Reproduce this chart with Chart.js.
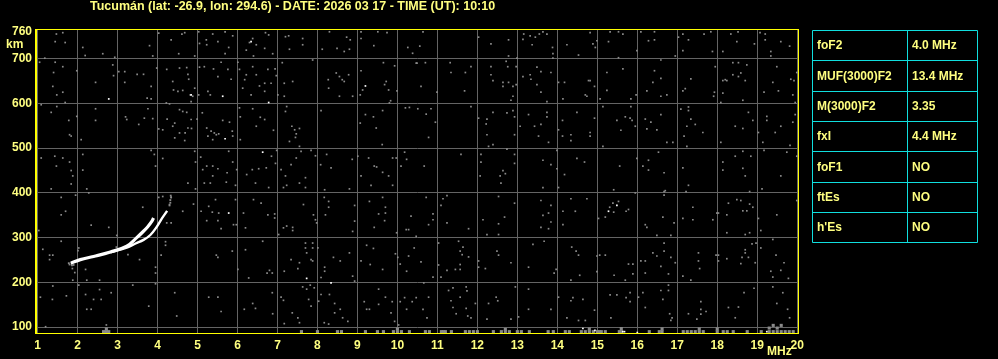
<!DOCTYPE html>
<html>
<head>
<meta charset="utf-8">
<script src="https://cdn.jsdelivr.net/npm/chart.js@4.4.1/dist/chart.umd.min.js"></script>
<style>
  html, body { margin: 0; padding: 0; background: #000; }
  #wrap { width: 998px; height: 359px; }
</style>
</head>
<body>
<div id="wrap"><canvas id="ionoChart" width="998" height="359"></canvas></div>
<script>
// station / sounding header
const station = 'Tucumán';
const lat = -26.9, lon = 294.6;
const soundDate = '2026 03 17', soundTime = '10:10';

// axes
const xTicks = [1, 2, 3, 4, 5, 6, 7, 8, 9, 10, 11, 12, 13, 14, 15, 16, 17, 18, 19, 20];
const yTicks = [100, 200, 300, 400, 500, 600, 700, 760];

// scaled parameters (right hand table)
const paramNames = ['foF2', 'MUF(3000)F2', 'M(3000)F2', 'fxI', 'foF1', 'ftEs', "h'Es"];
const paramValues = ['4.0 MHz', '13.4 MHz', '3.35', '4.4 MHz', 'NO', 'NO', 'NO'];

// F2 echo traces [MHz, km]
const oTrace = [[1.83,243],[2.07,251],[2.4,258],[2.82,268],[3.23,281],[3.48,300],[3.61,311],[3.75,324],[3.86,337],[3.9,344]];
const xTrace = [[2.82,267],[3.23,278],[3.45,287],[3.65,295],[3.82,306],[3.98,324],[4.11,343],[4.24,360]];
const faintEcho = [[1.78,243],[1.8,240],[1.86,238],[1.9,239],[4.3,372],[4.32,378],[4.32,384],[4.34,390],[4.33,394]];

// scattered noise echoes [MHz, km]
const noiseDots = [
[1.47,755],[1.63,758],[1.44,738],[1.69,736],[1.18,701],[2.19,707],[2.13,725],[2.63,711],[2.93,703],[3.8,729],[3.88,706],[4.03,757],[4.34,742],[4.61,755],[4.68,758],[4.53,711],[4.93,706],[5.05,734],[5.03,760],[5.22,742],[5.23,731],[5.38,755],[5.51,738],[5.69,760],[5.78,725],[5.69,711],[5.88,751],[6.22,719],[6.3,736],[6.38,745],[6.47,731],[6.4,706],[6.7,758],[6.78,753],[6.88,711],[6.68,723],[7.2,749],[7.28,751],[7.3,721],[7.63,745],[7.63,731],[7.88,697],[8.12,721],[8.3,760],[8.49,723],[8.67,716],[8.73,748],[8.82,742],[8.8,721],[9.09,745],[9.09,760],[9.41,729],[9.51,760],[9.74,758],[10.26,725],[10.38,712],
[1.05,692],[1.4,669],[1.63,682],[1.44,692],[1.38,638],[1.48,619],[1.63,625],[1.69,602],[1.98,673],[2.45,647],[2.88,686],[2.9,662],[3.03,671],[3.18,671],[3.18,647],[3.49,665],[3.65,665],[3.84,638],[3.74,612],[3.84,610],[3.98,679],[4.23,676],[4.38,649],[4.4,630],[4.51,627],[4.63,629],[4.55,679],[4.73,680],[4.76,665],[4.78,654],[4.82,619],[4.88,616],[4.84,604],[4.93,634],[5.05,681],[5.03,619],[5.17,682],[5.26,627],[5.32,619],[5.4,677],[5.51,660],[5.59,692],[5.76,676],[5.84,654],[6.01,692],[6.05,676],[6.18,653],[6.13,634],[6.22,664],[6.38,682],[6.34,619],[6.47,664],[6.55,639],[6.68,645],[6.68,627],[6.76,676],[6.84,645],[6.94,677],[6.97,662],[7.01,619],[7.17,645],[7.38,649],[7.17,616],[7.12,691],[8.27,653],[8.47,668],[8.55,660],[8.62,653],[8.67,649],[8.78,664],[8.28,634],[8.55,616],[8.88,616],[9.09,673],[9.13,630],[9.07,619],[9.65,691],[9.72,649],[9.68,642],[9.78,630],[9.93,684],[9.99,628],[9.83,606],[10.47,690],
[1.09,597],[1.34,580],[1.48,593],[1.78,562],[1.98,571],[2.09,519],[1.8,530],[1.84,527],[2.45,588],[2.45,562],[3.2,570],[3.23,564],[3.53,553],[3.67,567],[3.76,588],[3.88,566],[4.22,601],[4.3,599],[4.03,543],[4.13,541],[4.24,565],[4.38,549],[4.43,556],[4.55,586],[4.63,582],[4.73,580],[4.55,534],[4.69,534],[4.68,517],[4.43,523],[4.76,545],[4.85,544],[4.84,564],[4.99,565],[5.12,579],[5.23,545],[5.34,538],[5.42,534],[5.47,530],[5.53,532],[5.26,527],[5.38,519],[5.63,562],[5.8,558],[5.87,538],[5.88,527],[6.05,590],[6.07,570],[6.07,519],[6.38,588],[6.47,549],[6.57,569],[6.68,564],[6.9,540],[7.2,582],[7.23,593],[7.36,549],[7.43,541],[7.47,532],[7.45,524],[7.55,544],[7.3,515],[7.55,504],[8.09,584],[9.07,556],[9.2,575],[9.4,570],[9.47,545],[9.63,584],[9.8,601],[10.2,590],[10.3,591],[9.62,508],
[1.09,478],[1.43,482],[1.63,478],[1.8,469],[1.84,450],[1.88,438],[2.13,486],[1.47,460],[2.13,451],[3.92,486],[3.95,460],[3.84,495],[4.13,477],[4.93,493],[4.95,469],[5.08,480],[5.13,452],[5.23,460],[5.38,460],[5.38,438],[5.51,454],[5.74,445],[5.78,493],[5.88,469],[5.98,452],[6.23,441],[6.37,452],[6.53,454],[6.72,456],[6.85,482],[6.95,466],[6.98,495],[7.09,452],[7.2,438],[7.34,463],[7.47,478],[7.59,493],[7.7,434],[7.84,495],[7.95,483],[8.08,463],[8.23,486],[8.34,456],[8.87,475],[9.01,482],[9.09,438],[9.28,478],[9.42,460],[9.48,458],[9.63,446],[9.78,438],[9.88,478],[9.97,478],[10.09,460],[10.18,491],[10.23,475],
[10.64,760],[10.56,728],[10.49,690],[10.7,691],[10.59,638],[10.99,625],[11.32,691],[11.34,669],[11.7,669],[11.84,682],[11.68,628],[11.84,593],[12.03,748],[12.34,733],[12.78,742],[12.78,706],[12.99,701],[13.16,755],[13.14,743],[13.32,751],[13.37,731],[13.45,748],[13.55,755],[13.64,760],[13.74,755],[13.88,725],[13.89,711],[13.89,701],[14.24,731],[14.53,708],[14.82,758],[14.89,733],[14.99,740],[14.95,725],[15.28,738],[15.32,760],[15.53,760],[15.53,702],[15.64,755],[15.99,718],[16.09,760],[16.28,740],[16.43,760],[16.43,742],[16.95,706],[17.03,748],[17.14,755],[17.14,718],[17.28,742],[17.67,755],[17.84,760],[17.88,716],[18.14,716],[18.34,755],[18.49,738],[18.52,760],[18.93,733],[19.07,758],[19.2,755],[19.2,742],[19.34,716],[19.34,706],[19.59,738],[19.81,728],
[12.34,682],[12.34,664],[12.39,651],[12.64,647],[12.64,638],[12.78,647],[12.89,638],[12.72,694],[12.76,682],[12.97,682],[12.97,642],[12.89,616],[12.84,607],[13.14,660],[13.32,664],[13.34,654],[13.49,681],[13.59,671],[13.49,642],[13.59,625],[13.84,669],[13.74,604],[14.03,647],[14.18,647],[14.78,651],[14.82,651],[14.93,638],[14.7,619],[14.74,616],[14.14,610],[15.24,669],[15.64,677],[15.24,629],[15.07,610],[15.84,610],[15.97,619],[16.59,697],[16.43,673],[16.59,656],[16.39,647],[16.24,628],[16.74,619],[16.59,616],[17.34,655],[17.2,633],[17.14,628],[17.95,682],[17.93,625],[17.91,616],[18.14,651],[18.2,653],[18.24,651],[18.14,623],[18.09,602],[18.39,691],[18.53,691],[18.74,686],[18.59,668],[18.39,664],[18.53,660],[18.7,651],[18.64,607],[19.17,625],[19.49,682],[19.39,647],[19.53,628],[19.84,654],[19.92,651],[19.89,619],[19.95,602],[19.99,669],
[10.51,588],[10.84,588],[10.72,576],[10.95,558],[10.78,524],[12.03,567],[12.24,565],[12.22,554],[12.24,530],[12.39,580],[12.74,579],[12.89,584],[12.93,570],[12.93,530],[12.28,504],[12.39,508],[12.74,498],[13.07,549],[13.28,575],[13.43,549],[13.53,527],[13.59,553],[13.74,570],[13.74,580],[13.78,513],[14.03,541],[14.13,562],[14.13,527],[14.34,530],[14.34,517],[14.49,580],[14.82,535],[14.82,527],[14.93,567],[15.14,593],[15.14,504],[15.49,562],[15.59,540],[15.7,570],[15.82,567],[15.84,593],[15.87,562],[15.95,549],[16.2,565],[16.24,543],[16.34,558],[16.49,541],[16.59,575],[16.74,513],[16.89,513],[17.09,587],[17.28,592],[17.28,584],[17.34,565],[17.45,553],[17.24,549],[17.17,527],[17.24,504],[17.64,535],[18.09,513],[18.45,549],[18.64,544],[18.78,580],[18.89,562],[19.03,535],[19.14,513],[19.24,571],[19.24,562],[19.45,535],[19.59,549],[19.82,506],[19.89,558],[19.95,575],
[10.67,460],[11.59,486],[12.09,486],[12.09,469],[12.07,438],[12.57,438],[12.64,450],[12.7,443],[12.93,486],[12.93,466],[13.64,473],[13.84,463],[13.99,495],[13.99,454],[14.18,441],[14.49,477],[14.68,469],[15.56,460],[15.99,477],[16.14,460],[16.28,473],[16.28,451],[16.53,491],[16.67,445],[17.14,456],[18.14,469],[18.14,451],[18.45,482],[18.64,493],[18.64,455],[18.7,438],[18.84,482],[19.17,495],[19.59,438],[19.74,491],[19.99,482],
[1.34,409],[1.84,420],[2.23,409],[2.28,400],[4.76,422],[4.95,409],[5.17,422],[5.32,422],[5.72,424],[5.95,417],[6.45,422],[6.78,412],[7.15,412],[7.23,417],[7.55,422],[7.7,412],[8.18,407],[8.8,409],[9.34,417],[9.88,417],
[1.59,390],[1.95,395],[1.59,351],[1.7,359],[1.03,316],[2.34,328],[2.78,323],[2.98,305],[3.63,368],[4.03,390],[4.13,392],[4.34,390],[4.3,374],[4.23,333],[4.34,333],[4.63,359],[4.9,375],[5.09,359],[5.28,370],[5.37,357],[5.45,385],[5.53,355],[5.51,338],[5.59,320],[5.23,338],[5.9,329],[5.97,329],[5.95,385],[6.15,355],[6.2,322],[6.4,385],[6.59,377],[6.76,351],[6.93,353],[6.93,344],[7.15,322],[7.23,326],[7.38,323],[7.38,316],[7.03,307],[7.65,374],[7.9,351],[7.95,340],[7.98,333],[8.17,390],[8.28,381],[8.28,368],[8.2,351],[8.93,372],[8.93,337],[8.88,314],[9.3,381],[9.63,390],[9.7,368],[9.7,355],[9.53,353],[9.42,323],[9.68,338],[9.98,311],[10.22,318],[10.28,318],[10.34,348],[10.47,303],
[1.13,274],[1.59,292],[1.3,261],[1.38,261],[1.3,251],[2.03,277],[2.01,271],[1.87,231],[1.93,222],[1.88,205],[2.2,229],[2.23,205],[2.55,205],[2.97,279],[3.26,262],[3.55,251],[3.95,234],[3.95,221],[4.09,261],[4.2,291],[4.2,283],[5.47,261],[5.51,256],[5.87,270],[6.01,229],[6.28,210],[6.2,273],[6.63,292],[6.74,221],[6.8,227],[6.87,221],[7.17,225],[7.34,251],[7.55,244],[7.51,231],[7.7,288],[7.7,277],[7.88,288],[7.88,277],[7.73,266],[7.84,251],[7.88,248],[8.01,277],[8.18,234],[8.18,225],[8.09,211],[8.4,256],[8.57,248],[8.8,266],[8.88,214],[8.93,203],[9.09,248],[9.23,283],[9.32,240],[9.4,276],[9.63,229],[9.95,264],[10.01,256],[10.07,241],[10.23,225],[10.28,259],[10.42,277],
[1.07,167],[1.38,192],[1.37,162],[1.72,170],[2.03,194],[2.2,173],[2.23,140],[2.34,140],[2.4,162],[2.59,162],[2.55,184],[2.84,177],[3.38,194],[3.78,147],[3.95,197],[4.43,177],[4.48,125],[5.28,167],[5.51,167],[5.59,135],[6.17,140],[6.38,153],[6.45,142],[6.87,177],[6.88,130],[7.09,167],[7.15,160],[7.17,108],[7.37,132],[7.51,121],[7.55,110],[7.63,190],[7.73,185],[7.82,194],[7.92,188],[7.78,162],[7.84,147],[8.03,158],[8.09,173],[8.3,173],[8.17,110],[8.28,107],[8.43,153],[8.43,132],[8.57,140],[8.63,121],[8.76,113],[9.17,157],[9.23,140],[9.3,140],[9.53,185],[9.53,151],[9.7,167],[9.87,157],[9.84,132],[9.93,113],[10.03,105],[10.07,157],[10.18,166],[10.23,140],[10.37,157],[10.47,166],[1.2,101],[2.72,105],
[12.59,422],[13.64,412],[14.03,412],[15.41,407],[16.67,403],[16.67,395],[17.22,403],[17.28,417],[19.12,409],[18.81,403],
[10.72,390],[10.89,353],[10.78,329],[10.89,340],[11.09,372],[11.14,387],[11.24,394],[11.24,333],[11.78,320],[12.14,340],[12.24,307],[12.53,392],[12.53,331],[12.68,346],[12.53,307],[12.93,377],[13.59,383],[13.64,350],[13.78,355],[13.84,372],[13.84,335],[13.78,320],[13.59,323],[14.14,359],[14.45,359],[14.14,329],[14.34,387],[14.74,387],[15.03,343],[15.2,346],[15.31,368],[15.39,377],[15.41,357],[15.53,381],[15.78,363],[15.72,359],[15.95,400],[16.2,329],[16.24,323],[16.49,305],[16.64,346],[16.7,405],[16.84,305],[16.92,333],[17.14,343],[17.39,368],[17.39,340],[17.89,340],[17.99,355],[18.03,355],[18.24,351],[18.28,377],[18.24,311],[18.49,385],[18.59,383],[18.64,360],[18.74,360],[18.81,375],[18.89,368],[18.7,307],[18.81,311],[19.03,343],[19.09,316],[19.49,351],[19.99,383],
[11.03,288],[11.53,292],[11.57,270],[11.64,279],[11.62,262],[11.78,257],[11.57,240],[11.57,229],[11.45,229],[11.24,227],[11.09,212],[10.89,212],[10.59,246],[10.66,199],[11.03,239],[12.03,248],[12.03,234],[12.2,231],[12.49,270],[12.53,261],[12.84,244],[13.28,234],[13.39,285],[13.67,292],[13.92,221],[13.97,229],[14.36,279],[14.47,270],[14.53,261],[14.56,216],[14.34,205],[14.99,259],[15.06,261],[14.99,224],[15.2,261],[15.42,216],[15.7,205],[15.78,241],[15.89,241],[15.89,219],[16.09,248],[16.2,248],[16.2,221],[16.39,266],[16.49,259],[16.59,236],[16.67,288],[16.67,270],[16.78,219],[16.84,256],[16.95,244],[17.14,214],[17.34,205],[17.53,266],[17.53,248],[17.56,231],[17.97,261],[18.03,261],[18.03,248],[18.24,253],[18.59,242],[18.62,256],[18.7,273],[18.7,266],[18.78,256],[18.87,286],[18.97,288],[19.09,277],[18.95,244],[19.39,296],[19.47,261],[19.34,225],[19.39,212],[19.59,227],[19.67,244],[19.78,209],
[10.78,167],[10.64,140],[10.74,121],[11.28,182],[11.39,188],[11.34,159],[11.39,144],[11.47,130],[11.57,167],[11.72,190],[11.74,181],[11.72,142],[11.76,125],[11.84,121],[11.95,153],[12.24,118],[12.28,153],[12.47,167],[12.51,159],[12.84,118],[12.95,190],[13.03,123],[13.28,185],[13.28,140],[13.84,140],[14.03,167],[14.24,121],[14.34,159],[14.39,166],[14.64,162],[14.53,115],[14.7,115],[14.93,138],[15.32,172],[15.34,121],[15.49,172],[15.72,166],[15.82,177],[15.82,157],[16.03,167],[16.14,177],[16.2,144],[16.59,182],[16.64,162],[16.78,182],[16.78,194],[16.81,130],[16.87,121],[16.84,115],[17.28,130],[17.49,118],[17.59,157],[17.59,140],[17.72,135],[17.59,129],[18.28,144],[18.45,121],[18.53,145],[18.67,177],[18.92,187],[19.39,190],[19.49,153],[19.64,177],[19.76,140],[19.81,121]
];

// strong isolated echoes [MHz, km]
const whiteDots = [[6.34,738],[2.78,610],[4.84,619],[5.63,616],[6.78,602],[9.2,639],[5.69,521],[6.63,491],[5.78,355],[7.73,209],[8.34,199],[15.28,359],[15.49,372],[14.64,97],[14.94,93],[15.64,90],[15.68,90],[16.0,88],[19.24,90]];

// low-height interference near the lower edge [MHz, km]
const bottomNoise = [
[2.65,90],[2.72,90],[2.78,90],[2.72,96],[7.6,90],[8.0,90],[8.5,90],[8.6,90],[9.2,90],[9.5,90],[9.65,90],[9.9,90],[10.0,90],[10.1,90],[10.0,96],[10.3,90],[10.7,90],[10.8,90],[11.1,90],[11.15,90],[11.2,90],[11.35,90],[11.7,90],[11.8,90],[11.9,90],[12.0,90],[12.4,90],[12.6,90],[12.7,90],[12.8,90],[12.7,95],[13.0,90],[13.1,90],[13.3,90],[13.77,90],[13.9,90],[14.2,90],[14.3,90],[14.6,90],[14.7,90],[14.8,90],[14.8,96],[14.9,90],[15.0,90],[15.05,90],[15.1,90],[15.2,90],[15.55,90],[15.6,90],[15.6,97],[16.3,90],[16.55,90],[16.62,90],[16.62,96],[17.15,90],[17.25,90],[17.35,90],[17.45,90],[17.55,90],[17.55,96],[17.65,90],[18.0,90],[18.0,96],[18.15,90],[18.25,90],[18.4,90],[18.75,90],[19.1,90],[19.3,90],[19.4,90],[19.5,90],[19.6,90],[19.7,90],[19.8,90],[19.9,90],[19.3,98],[19.4,104],[19.5,98],[19.6,104]
];

const yellow = '#ffff00';
const textYellow = '#ffff80';
const gridGrey = '#646464';
const dotGrey = '#8a8a8a';
const cyan = '#10dede';

const toXY = arr => arr.map(p => ({x: p[0], y: p[1]}));

const overlay = {
  id: 'overlay',
  afterDraw(chart) {
    const c = chart.ctx, a = chart.chartArea;
    c.save();
    // frame
    c.strokeStyle = yellow;
    c.lineWidth = 1;
    c.strokeRect(Math.round(a.left) - 0.5, Math.round(a.top) - 0.5, Math.round(a.right - a.left) + 1, Math.round(a.bottom - a.top) + 1);
    // title
    c.fillStyle = textYellow;
    c.textBaseline = 'middle';
    c.textAlign = 'left';
    c.font = 'bold 12.5px "Liberation Sans", Arial, sans-serif';
    c.fillText(station + ' (lat: ' + lat + ', lon: ' + lon + ') - DATE: ' + soundDate + ' - TIME (UT): ' + soundTime, 90, 7);
    c.font = 'bold 12px "Liberation Sans", Arial, sans-serif';
    c.fillText('km', 6, 45);
    c.fillText('MHz', 767, 352);
    // parameters table
    const tx = 812, tw = 165, split = 907, rowH = 30.3, ty = 30;
    c.strokeStyle = cyan;
    for (let i = 0; i <= paramNames.length; i++) {
      const y = Math.round(ty + i * rowH) + 0.5;
      c.beginPath(); c.moveTo(tx + 0.5, y); c.lineTo(tx + tw + 0.5, y); c.stroke();
    }
    const yb = Math.round(ty + paramNames.length * rowH) + 0.5;
    [tx, split, tx + tw].forEach(x => {
      c.beginPath(); c.moveTo(x + 0.5, ty + 0.5); c.lineTo(x + 0.5, yb); c.stroke();
    });
    paramNames.forEach((n, i) => {
      const y = ty + (i + 0.5) * rowH + 1;
      c.fillText(n, 817, y);
      c.fillText(paramValues[i], 912, y);
    });
    c.restore();
  }
};

new Chart(document.getElementById('ionoChart').getContext('2d'), {
  type: 'scatter',
  data: {
    datasets: [
      { type: 'line', data: toXY(oTrace), borderColor: '#ffffff', borderWidth: 3.2, tension: 0.4, pointRadius: 0, fill: false },
      { type: 'line', data: toXY(xTrace), borderColor: '#ffffff', borderWidth: 2.4, tension: 0.4, pointRadius: 0, fill: false },
      { data: toXY(whiteDots), pointStyle: 'rect', pointRadius: 1.2, backgroundColor: '#ffffff', borderWidth: 0 },
      { data: toXY(faintEcho), pointStyle: 'rect', pointRadius: 1.3, backgroundColor: dotGrey, borderWidth: 0 },
      { data: toXY(noiseDots), pointStyle: 'rect', pointRadius: 1.2, backgroundColor: dotGrey, borderWidth: 0 },
      { data: toXY(bottomNoise), pointStyle: 'rect', pointRadius: 2.2, backgroundColor: dotGrey, borderWidth: 0 }
    ]
  },
  options: {
    responsive: false,
    animation: false,
    devicePixelRatio: 1,
    layout: { padding: { top: 30, right: 200, left: 0, bottom: 0 } },
    plugins: { legend: { display: false }, tooltip: { enabled: false }, title: { display: false } },
    scales: {
      x: {
        type: 'linear',
        min: 0.96,
        max: 20.02,
        afterBuildTicks: s => { s.ticks = xTicks.map(v => ({value: v})); },
        afterFit: s => { s.height = 26; },
        ticks: {
          autoSkip: false, maxRotation: 0, padding: 5, color: textYellow,
          font: { family: '"Liberation Sans", Arial, sans-serif', size: 12, weight: 'bold' }
        },
        grid: { color: gridGrey, lineWidth: 1, drawTicks: false },
        border: { color: yellow, width: 1 }
      },
      y: {
        type: 'linear',
        min: 87,
        max: 764,
        afterBuildTicks: s => { s.ticks = yTicks.map(v => ({value: v})); },
        afterFit: s => { s.width = 36; },
        ticks: {
          autoSkip: false, padding: 4, color: textYellow,
          font: { family: '"Liberation Sans", Arial, sans-serif', size: 12, weight: 'bold' }
        },
        grid: { color: ctx => (ctx.tick && ctx.tick.value === 760 ? 'rgba(0,0,0,0)' : gridGrey), lineWidth: 1, drawTicks: false },
        border: { color: yellow, width: 1 }
      }
    }
  },
  plugins: [overlay]
});
</script>
</body>
</html>
